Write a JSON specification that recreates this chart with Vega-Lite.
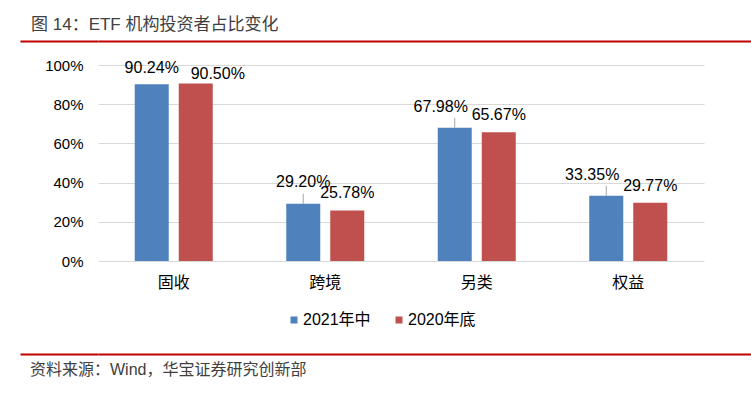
{
  "$schema": "https://vega.github.io/schema/vega-lite/v6.json",
  "padding": {"left": 19, "top": 16, "right": 0, "bottom": 0},
  "spacing": 14,
  "config": {
    "font": "Liberation Sans, Noto Sans CJK SC",
    "view": {"stroke": null}
  },
  "resolve": {"scale": {"color": "independent"}, "legend": {"color": "independent"}},
  "vconcat": [
    {
      "width": 654,
      "height": 1,
      "title": {
        "text": "图 14：ETF 机构投资者占比变化",
        "anchor": "start",
        "frame": "bounds",
        "dx": 12,
        "offset": 4,
        "fontSize": 17,
        "fontWeight": "normal",
        "color": "#404040",
        "font": "Liberation Sans, Noto Sans CJK SC"
      },
      "data": {"values": [{"v": 1}]},
      "mark": {"type": "point", "opacity": 0},
      "encoding": {
        "y": {
          "field": "v",
          "type": "quantitative",
          "scale": {"domain": [0, 1]},
          "axis": {
            "title": null,
            "values": [1],
            "labels": false,
            "domain": false,
            "ticks": true,
            "tickSize": 78,
            "tickColor": "#C00000",
            "tickWidth": 2,
            "grid": true,
            "gridColor": "#C00000",
            "gridWidth": 2,
            "minExtent": 78,
            "maxExtent": 78
          }
        }
      }
    },
    {
      "width": 606,
      "height": 196,
      "data": {
        "values": [
          {"cat": "固收", "series": "2021年中", "v": 0.9024},
          {"cat": "固收", "series": "2020年底", "v": 0.9050},
          {"cat": "跨境", "series": "2021年中", "v": 0.2920},
          {"cat": "跨境", "series": "2020年底", "v": 0.2578},
          {"cat": "另类", "series": "2021年中", "v": 0.6798},
          {"cat": "另类", "series": "2020年底", "v": 0.6567},
          {"cat": "权益", "series": "2021年中", "v": 0.3335},
          {"cat": "权益", "series": "2020年底", "v": 0.2977}
        ]
      },
      "encoding": {
        "x": {
          "field": "cat",
          "type": "nominal",
          "sort": ["固收", "跨境", "另类", "权益"],
          "scale": {"paddingInner": 0.485, "paddingOuter": 0.2425},
          "axis": {
            "title": null,
            "labelAngle": 0,
            "domain": false,
            "ticks": false,
            "tickSize": 0,
            "labelPadding": 13,
            "labelFontSize": 16,
            "labelColor": "#000000"
          }
        },
        "xOffset": {
          "field": "series",
          "type": "nominal",
          "sort": ["2021年中", "2020年底"],
          "scale": {"paddingInner": 0.2273, "paddingOuter": 0}
        },
        "y": {
          "field": "v",
          "type": "quantitative",
          "scale": {"domain": [0, 1]},
          "axis": {
            "title": null,
            "format": ".0%",
            "values": [0, 0.2, 0.4, 0.6, 0.8, 1],
            "grid": true,
            "gridColor": "#D9D9D9",
            "gridWidth": 1,
            "domain": false,
            "ticks": false,
            "tickSize": 0,
            "labelPadding": 15,
            "labelFontSize": 15,
            "labelColor": "#000000",
            "minExtent": 78
          }
        }
      },
      "layer": [
        {
          "mark": {"type": "bar"},
          "encoding": {
            "color": {
              "field": "series",
              "type": "nominal",
              "scale": {"domain": ["2021年中", "2020年底"], "range": ["#4F81BD", "#C0504D"]},
              "legend": {
                "title": null,
                "orient": "none",
                "direction": "horizontal",
                "legendX": 179,
                "legendY": 238,
                "padding": 9,
                "symbolType": "square",
                "symbolSize": 49,
                "symbolStrokeWidth": 0,
                "labelFontSize": 16,
                "labelColor": "#000000",
                "labelOffset": 1,
                "columnPadding": 20
              }
            }
          }
        },
        {
          "transform": [
            {"filter": "datum.series === '2021年中' && datum.cat !== '固收'"}
          ],
          "mark": {"type": "rule", "color": "#A6A6A6", "strokeWidth": 1, "y2Offset": -10},
          "encoding": {
            "y2": {"field": "v"}
          }
        },
        {
          "transform": [{"filter": "datum.series === '2021年中' && datum.cat === '固收'"}],
          "mark": {"type": "text", "dy": -16, "fontSize": 16, "color": "#000000"},
          "encoding": {"text": {"field": "v", "type": "quantitative", "format": ".2%"}}
        },
        {
          "transform": [{"filter": "datum.series === '2021年中' && datum.cat === '跨境'"}],
          "mark": {"type": "text", "dy": -22, "fontSize": 16, "color": "#000000"},
          "encoding": {"text": {"field": "v", "type": "quantitative", "format": ".2%"}}
        },
        {
          "transform": [{"filter": "datum.series === '2021年中' && (datum.cat === '另类' || datum.cat === '权益')"}],
          "mark": {"type": "text", "dy": -21, "dx": -14, "fontSize": 16, "color": "#000000"},
          "encoding": {"text": {"field": "v", "type": "quantitative", "format": ".2%"}}
        },
        {
          "transform": [{"filter": "datum.series === '2020年底' && datum.cat === '固收'"}],
          "mark": {"type": "text", "dy": -10, "dx": 22, "fontSize": 16, "color": "#000000"},
          "encoding": {"text": {"field": "v", "type": "quantitative", "format": ".2%"}}
        },
        {
          "transform": [{"filter": "datum.series === '2020年底' && datum.cat !== '固收'"}],
          "mark": {"type": "text", "dy": -17, "fontSize": 16, "color": "#000000"},
          "encoding": {"text": {"field": "v", "type": "quantitative", "format": ".2%"}}
        }
      ]
    },
    {
      "width": 654,
      "height": 1,
      "title": {
        "text": "资料来源：Wind，华宝证券研究创新部",
        "orient": "bottom",
        "anchor": "start",
        "frame": "bounds",
        "dx": 11,
        "offset": 5,
        "fontSize": 16,
        "fontWeight": "normal",
        "color": "#404040",
        "font": "Liberation Sans, Noto Sans CJK SC"
      },
      "data": {"values": [{"v": 1}]},
      "mark": {"type": "point", "opacity": 0},
      "encoding": {
        "y": {
          "field": "v",
          "type": "quantitative",
          "scale": {"domain": [0, 1]},
          "axis": {
            "title": null,
            "values": [1],
            "labels": false,
            "domain": false,
            "ticks": true,
            "tickSize": 78,
            "tickColor": "#C00000",
            "tickWidth": 2,
            "grid": true,
            "gridColor": "#C00000",
            "gridWidth": 2,
            "minExtent": 78,
            "maxExtent": 78
          }
        }
      }
    }
  ]
}
